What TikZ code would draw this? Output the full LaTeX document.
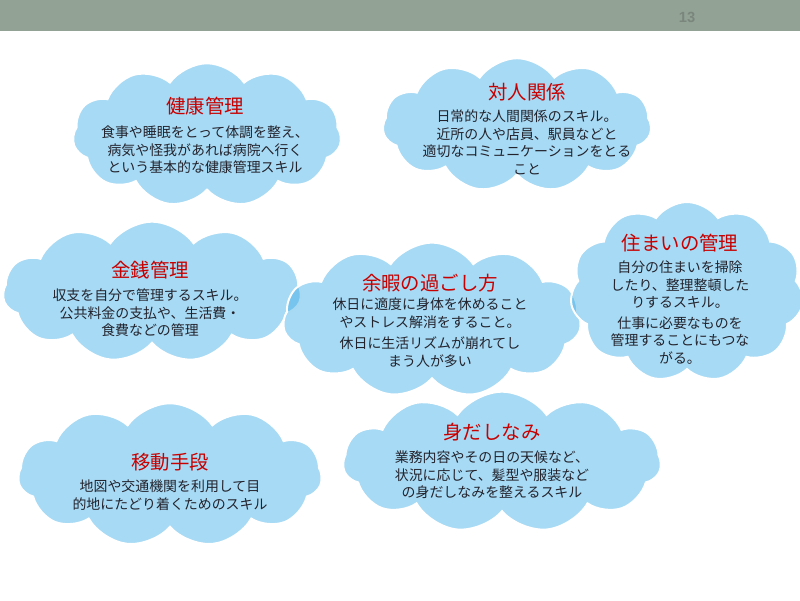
\documentclass[tikz,border=0pt]{standalone}
\usepackage{fontspec}
\setmainfont{Noto Sans CJK JP}
\newfontfamily\pagefont{Liberation Sans}
\usepackage{tikz}
\usetikzlibrary{shapes.symbols}
\definecolor{barcol}{RGB}{146,163,150}
\definecolor{numcol}{RGB}{122,134,124}
\definecolor{cloudcol}{RGB}{60,172,230}
\definecolor{headcol}{RGB}{200,0,0}
\definecolor{bodycol}{RGB}{35,35,45}

\begin{document}
\begin{tikzpicture}[x=0.025cm,y=-0.025cm,
		cloudbox/.style={cloud, cloud puffs=11, cloud puff arc=110, draw=white, line width=1.4pt,
			fill=cloudcol, fill opacity=0.45, inner sep=0pt},
		head/.style={text=headcol, font=\fontsize{13.8}{16}\selectfont},
		body/.style={text=bodycol, align=center, font=\fontsize{9.9}{12.4}\selectfont}]
				\useasboundingbox (0,0) rectangle (800,600);
				\fill[barcol] (0,0) rectangle (800,31);
				\node[text=numcol, font=\pagefont\bfseries\fontsize{10.5}{12}\selectfont] (pagenum) at (687,17) {13};
				% clouds
				\node[cloudbox, minimum width=191, minimum height=102] (kenko) at (207,135) {};
				\node[cloudbox, minimum width=191, minimum height=95] (taijin) at (517,125) {};
				\node[cloudbox, minimum width=212, minimum height=100] (kinsen) at (152,292) {};
				\node[cloudbox, minimum width=212, minimum height=110] (yoka) at (432,320) {};
				\node[cloudbox, minimum width=166, minimum height=128] (sumai) at (687,292) {};
				\node[cloudbox, minimum width=216, minimum height=102] (ido) at (170,475) {};
				\node[cloudbox, minimum width=226, minimum height=100] (midashi) at (502,462) {};
				% texts
				\node[head] (kenkoT) at (205,106) {健康管理};
				\node[body, anchor=north] (kenkoB) at (205,121) {食事や睡眠をとって体調を整え、\\病気や怪我があれば病院へ行く\\という基本的な健康管理スキル};
				\node[head] (taijinT) at (527,92) {対人関係};
				\node[body, anchor=north] (taijinB) at (527,105) {日常的な人間関係のスキル。\\近所の人や店員、駅員などと\\適切なコミュニケーションをとる\\こと};
				\node[head] (kinsenT) at (150,270) {金銭管理};
				\node[body, anchor=north] (kinsenB) at (150,284) {収支を自分で管理するスキル。\\公共料金の支払や、生活費・\\食費などの管理};
				\node[head] (yokaT) at (430,283) {余暇の過ごし方};
				\node[body, anchor=north] (yokaB) at (430,293) {休日に適度に身体を休めること\\やストレス解消をすること。\\[3pt]休日に生活リズムが崩れてし\\まう人が多い};
				\node[head] (sumaiT) at (680,243) {住まいの管理};
				\node[body, anchor=north] (sumaiB) at (680,256) {自分の住まいを掃除\\したり、整理整頓した\\りするスキル。\\[2.5pt]仕事に必要なものを\\管理することにもつな\\がる。};
				\node[head] (idoT) at (170,462) {移動手段};
				\node[body, anchor=north] (idoB) at (170,475) {地図や交通機関を利用して目\\的地にたどり着くためのスキル};
				\node[head] (midashiT) at (492,432) {身だしなみ};
				\node[body, anchor=north] (midashiB) at (492,446) {業務内容やその日の天候など、\\状況に応じて、髪型や服装など\\の身だしなみを整えるスキル};
			\end{tikzpicture}
\end{document}
